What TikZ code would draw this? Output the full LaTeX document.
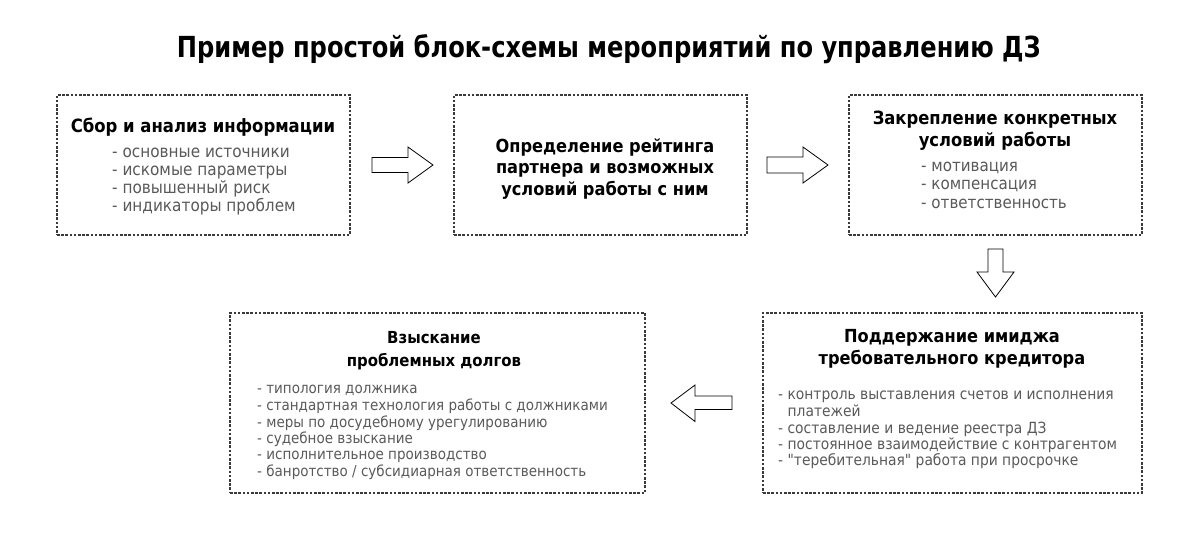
\documentclass[tikz,border=0pt]{standalone}
\usepackage{fontspec}
\setmainfont{DejaVu Sans Condensed}
\newfontfamily\plainfont{DejaVu Sans Condensed}
\definecolor{itemgray}{HTML}{5A5A5A}
\definecolor{boxline}{HTML}{3A3A3A}
\begin{document}
\begin{tikzpicture}[x=1pt,y=-1pt,
  box/.style={draw=boxline, line width=1.2pt, dash pattern=on 2.6pt off 1.6pt, rectangle, inner sep=0pt},
  head/.style={inner sep=0pt, font=\bfseries\fontsize{17.5}{22}\selectfont, align=center, text=black},
  items/.style={inner sep=0pt, anchor=north west, align=left, text=itemgray},
  barrow/.style={draw=black, line width=0.8pt, fill=white, line join=miter}
]
\useasboundingbox (0,0) rectangle (1200,542);
\fill[white] (0,0) rectangle (1200,542);

% title
\node[inner sep=0pt, anchor=base, font=\bfseries\fontsize{29}{34}\selectfont] (title) at (609,57) {\scalebox{0.925}[1]{Пример простой блок-схемы мероприятий по управлению ДЗ}};

% boxes
\node[box, minimum width=293pt, minimum height=140pt] (b1) at (203.5,165) {};
\node[box, minimum width=293pt, minimum height=140pt] (b2) at (600.5,165) {};
\node[box, minimum width=293pt, minimum height=140pt] (b3) at (995.5,165) {};
\node[box, minimum width=379pt, minimum height=180pt] (b5) at (952.5,403) {};
\node[box, minimum width=415pt, minimum height=180pt] (b4) at (437.5,403) {};

% box 1
\node[head, anchor=base, font=\bfseries\fontsize{18.3}{22}\selectfont] (h1) at (203,132) {Сбор и анализ информации};
\node[items, font=\fontsize{17}{18}\selectfont] (i1) at (112,144.4)
  {\strut- основные источники\\- искомые параметры\\- повышенный риск\\- индикаторы проблем};

% box 2
\node[head, anchor=north, font=\bfseries\fontsize{18}{21.5}\selectfont] (h2) at (605,137)
  {\strut Определение рейтинга\\партнера и возможных\\условий работы с ним};

% box 3
\node[head, anchor=north, font=\bfseries\fontsize{18.2}{22}\selectfont] (h3) at (995,108.6)
  {\strut Закрепление конкретных\\условий работы};
\node[items, font=\fontsize{16.8}{18.5}\selectfont] (i3) at (921,158)
  {\strut- мотивация\\- компенсация\\- ответственность};

% box 5
\node[head, anchor=north, font=\bfseries\fontsize{18}{22}\selectfont] (h5) at (952,327)
  {\strut Поддержание имиджа\\требовательного кредитора};
\node[items, font=\fontsize{15.4}{16.3}\selectfont] (i5) at (778,387.6)
  {\strut- контроль выставления счетов и исполнения\\\phantom{- }платежей\\- составление и ведение реестра ДЗ\\- постоянное взаимодействие с контрагентом\\- {\plainfont"}теребительная{\plainfont"} работа при просрочке};

% box 4
\node[head, anchor=north, font=\bfseries\fontsize{16.6}{23}\selectfont] (h4) at (434,327)
  {\strut Взыскание\\проблемных долгов};
\node[items, font=\fontsize{15}{16.4}\selectfont] (i4) at (257,381.5)
  {\strut- типология должника\\- стандартная технология работы с должниками\\- меры по досудебному урегулированию\\- судебное взыскание\\- исполнительное производство\\- банротство / субсидиарная ответственность};

% block arrows
\draw[barrow] (372,157.5) -- (408,157.5) -- (408,147) -- (433,165) -- (408,183) -- (408,172.5) -- (372,172.5) -- cycle;
\draw[barrow] (767,157) -- (803,157) -- (803,147) -- (828,165) -- (803,183) -- (803,173) -- (767,173) -- cycle;
\draw[barrow] (988,249) -- (1003,249) -- (1003,272) -- (1014,272) -- (995.5,297) -- (977,272) -- (988,272) -- cycle;
\draw[barrow] (732,396) -- (695,396) -- (695,385) -- (671,403) -- (695,421.5) -- (695,409.5) -- (732,409.5) -- cycle;
\end{tikzpicture}
\end{document}
